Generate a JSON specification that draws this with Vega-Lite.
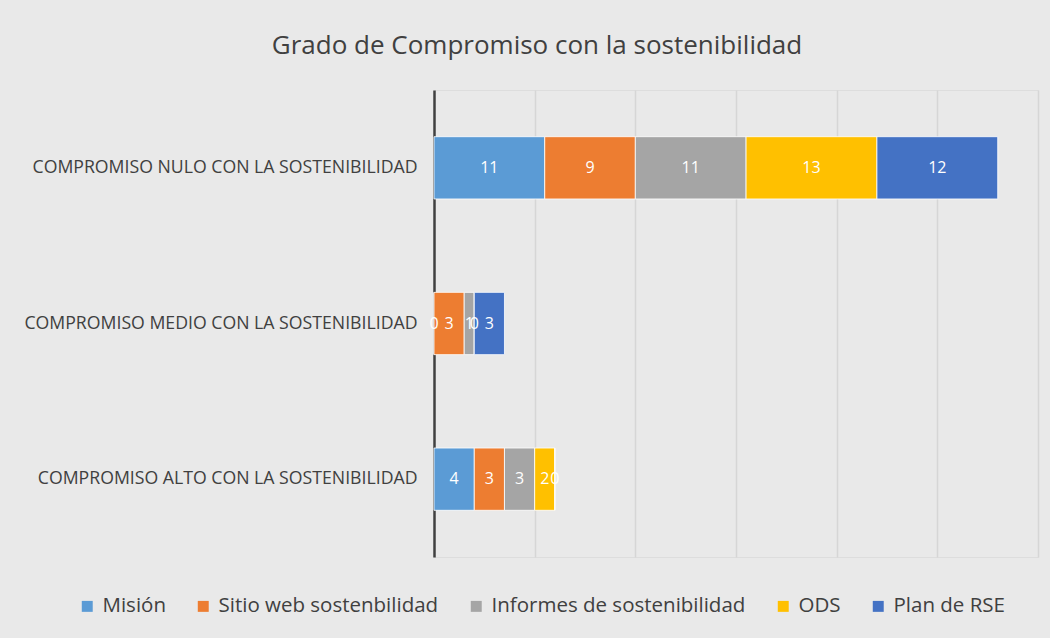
{
  "$schema": "https://vega.github.io/schema/vega-lite/v6.json",
  "autosize": {"type": "none"},
  "padding": {"left": 434, "top": 90, "right": 12, "bottom": 81},
  "width": 604,
  "height": 467,
  "background": "#e9e9e9",
  "title": {
    "text": "Grado de Compromiso con la sostenibilidad",
    "font": "Open Sans",
    "fontSize": 26,
    "fontWeight": "normal",
    "color": "#404040",
    "anchor": "middle",
    "dx": -199,
    "offset": 31
  },
  "data": {
    "values": [
      {"cat": "COMPROMISO NULO CON LA SOSTENIBILIDAD", "serie": "Misión", "o": 1, "v": 11},
      {"cat": "COMPROMISO NULO CON LA SOSTENIBILIDAD", "serie": "Sitio web sostenbilidad", "o": 2, "v": 9},
      {"cat": "COMPROMISO NULO CON LA SOSTENIBILIDAD", "serie": "Informes de sostenibilidad", "o": 3, "v": 11},
      {"cat": "COMPROMISO NULO CON LA SOSTENIBILIDAD", "serie": "ODS", "o": 4, "v": 13},
      {"cat": "COMPROMISO NULO CON LA SOSTENIBILIDAD", "serie": "Plan de RSE", "o": 5, "v": 12},
      {"cat": "COMPROMISO MEDIO CON LA SOSTENIBILIDAD", "serie": "Misión", "o": 1, "v": 0},
      {"cat": "COMPROMISO MEDIO CON LA SOSTENIBILIDAD", "serie": "Sitio web sostenbilidad", "o": 2, "v": 3},
      {"cat": "COMPROMISO MEDIO CON LA SOSTENIBILIDAD", "serie": "Informes de sostenibilidad", "o": 3, "v": 1},
      {"cat": "COMPROMISO MEDIO CON LA SOSTENIBILIDAD", "serie": "ODS", "o": 4, "v": 0},
      {"cat": "COMPROMISO MEDIO CON LA SOSTENIBILIDAD", "serie": "Plan de RSE", "o": 5, "v": 3},
      {"cat": "COMPROMISO ALTO CON LA SOSTENIBILIDAD", "serie": "Misión", "o": 1, "v": 4},
      {"cat": "COMPROMISO ALTO CON LA SOSTENIBILIDAD", "serie": "Sitio web sostenbilidad", "o": 2, "v": 3},
      {"cat": "COMPROMISO ALTO CON LA SOSTENIBILIDAD", "serie": "Informes de sostenibilidad", "o": 3, "v": 3},
      {"cat": "COMPROMISO ALTO CON LA SOSTENIBILIDAD", "serie": "ODS", "o": 4, "v": 2},
      {"cat": "COMPROMISO ALTO CON LA SOSTENIBILIDAD", "serie": "Plan de RSE", "o": 5, "v": 0}
    ]
  },
  "encoding": {
    "y": {
      "field": "cat",
      "type": "nominal",
      "sort": ["COMPROMISO NULO CON LA SOSTENIBILIDAD", "COMPROMISO MEDIO CON LA SOSTENIBILIDAD", "COMPROMISO ALTO CON LA SOSTENIBILIDAD"],
      "scale": {"paddingInner": 0.6, "paddingOuter": 0.3},
      "axis": {
        "title": null,
        "labelFont": "Open Sans",
        "labelFontSize": 17.7,
        "labelColor": "#404040",
        "labelPadding": 17,
        "labelLimit": 500,
        "ticks": false,
        "domainColor": "#404040",
        "domainWidth": 2.5
      }
    },
    "order": {"field": "o", "type": "quantitative", "sort": "ascending"}
  },
  "layer": [
    {
      "mark": {"type": "bar", "stroke": "#ffffff", "strokeWidth": 1, "strokeOpacity": 0.8},
      "encoding": {
        "x": {
          "field": "v",
          "type": "quantitative",
          "stack": "zero",
          "scale": {"domain": [0, 60], "nice": false},
          "axis": {
            "title": null,
            "values": [10, 20, 30, 40, 50, 60],
            "labels": false,
            "ticks": false,
            "domain": false,
            "grid": true,
            "gridColor": "#d6d6d6",
            "gridWidth": 1.5
          }
        },
        "color": {
          "field": "serie",
          "type": "nominal",
          "sort": ["Misión", "Sitio web sostenbilidad", "Informes de sostenibilidad", "ODS", "Plan de RSE"],
          "scale": {
            "domain": ["Misión", "Sitio web sostenbilidad", "Informes de sostenibilidad", "ODS", "Plan de RSE"],
            "range": ["#5B9BD5", "#ED7D31", "#A5A5A5", "#FFC000", "#4472C4"]
          },
          "legend": {
            "title": null,
            "orient": "none",
            "direction": "horizontal",
            "legendX": -366,
            "legendY": 497,
            "symbolType": "square",
            "symbolSize": 120,
            "symbolStrokeWidth": 0,
            "labelFont": "Open Sans",
            "labelFontSize": 20.5,
            "labelLimit": 500,
            "labelColor": "#404040",
            "columnPadding": 27,
            "labelOffset": 5,
            "padding": 9
          }
        }
      }
    },
    {
      "mark": {"type": "text", "color": "#ffffff", "font": "Open Sans", "fontSize": 16, "align": "center", "baseline": "middle"},
      "encoding": {
        "x": {"field": "v", "type": "quantitative", "stack": "zero", "bandPosition": 0.5},
        "detail": {"field": "serie", "type": "nominal"},
        "text": {"field": "v", "type": "quantitative"}
      }
    }
  ]
}
